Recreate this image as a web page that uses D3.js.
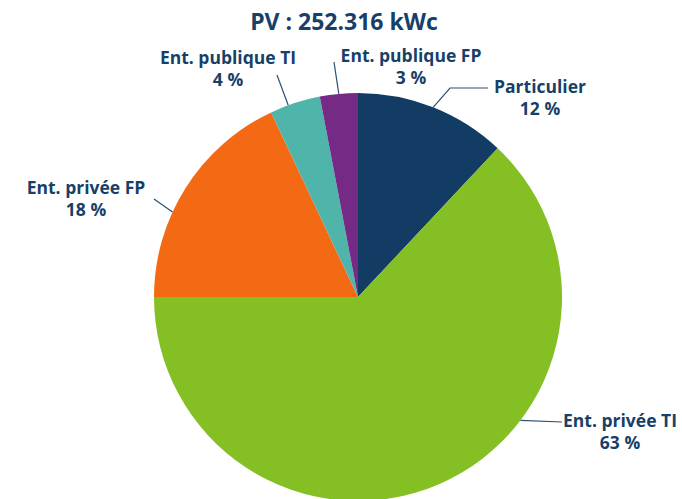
<!DOCTYPE html>
<html lang="en">
<head>
  <meta charset="UTF-8">
  <title>PV : 252.316 kWc</title>
  <script src="https://d3js.org/d3.v7.min.js"></script>
  <style>
    body { margin: 0; background: #fff; }
    svg text { font-family: "Open Sans", sans-serif; font-weight: bold; fill: #173f68; }
    .leader { fill: none; stroke: #2c4f74; stroke-width: 1.2px; }
  </style>
</head>
<body>
<script>
const title = "PV : 252.316 kWc";
const categories = ["Particulier", "Ent. privée TI", "Ent. privée FP", "Ent. publique TI", "Ent. publique FP"];
const shares = [12, 63, 18, 4, 3];
const colors = ["#133c65", "#84bf24", "#f46914", "#4fb5ab", "#752b86"];

// label placement: angle (deg) where the leader touches the pie, elbow and end of leader, label centre
const labelLayout = [
  { a: 21.6, elbow: [450, 88], end: [488, 88], tx: 540, ty: 87 },
  { a: 127.2, elbow: [562, 422], end: [562, 422], tx: 620, ty: 421 },
  { a: 294.6, elbow: [154, 199], end: [154, 199], tx: 86, ty: 188 },
  { a: 340, elbow: [277, 75], end: [277, 75], tx: 228, ty: 58 },
  { a: 354.6, elbow: [334, 62], end: [334, 62], tx: 411, ty: 56 }
];

const width = 682, height = 499;
const cx = 358, cy = 297, r = 204;

const svg = d3.select("body").append("svg")
  .attr("width", width)
  .attr("height", height);

svg.append("text")
  .attr("x", 344)
  .attr("y", 30)
  .attr("text-anchor", "middle")
  .style("font-size", "23px")
  .text(title);

const data = categories.map((c, i) => ({ name: c, value: shares[i], color: colors[i] }));

const pie = d3.pie().value(d => d.value).sort(null);
const arc = d3.arc().innerRadius(0).outerRadius(r);

const g = svg.append("g").attr("transform", `translate(${cx},${cy})`);

g.selectAll("path.slice")
  .data(pie(data))
  .enter().append("path")
  .attr("class", "slice")
  .attr("d", arc)
  .attr("fill", d => d.data.color);

// leaders
labelLayout.forEach((l, i) => {
  const t = l.a * Math.PI / 180;
  const sx = cx + r * Math.sin(t), sy = cy - r * Math.cos(t);
  const pts = [[sx, sy], l.elbow, l.end];
  svg.append("path")
    .attr("class", "leader")
    .attr("d", d3.line()(pts));

  const txt = svg.append("text")
    .attr("text-anchor", "middle")
    .style("font-size", "17.5px");
  txt.append("tspan").attr("x", l.tx).attr("y", l.ty + 6).text(categories[i]);
  txt.append("tspan").attr("x", l.tx).attr("y", l.ty + 28).text(shares[i] + " %");
});
</script>
</body>
</html>
